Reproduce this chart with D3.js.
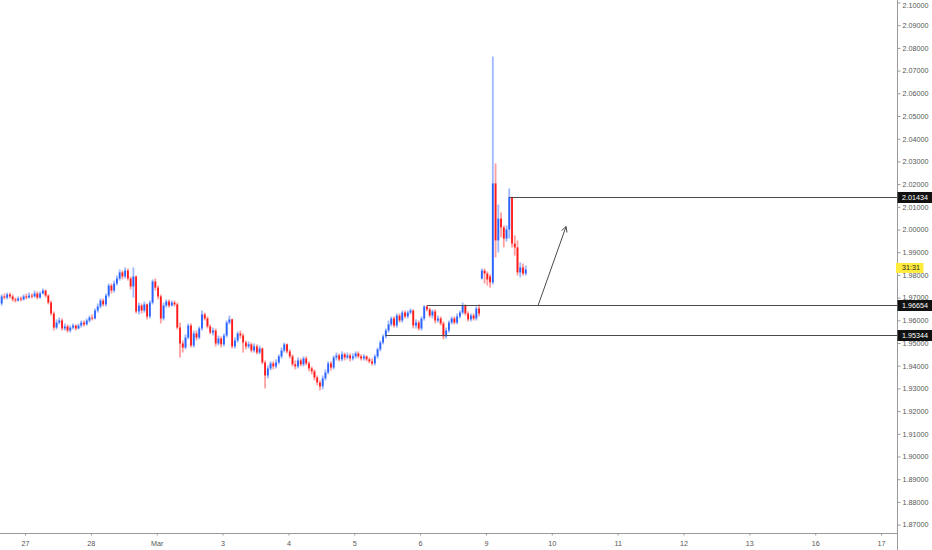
<!DOCTYPE html>
<html><head><meta charset="utf-8">
<script src="https://cdn.jsdelivr.net/npm/d3@7"></script>
<style>body{margin:0;background:#fff;}svg{display:block}</style>
</head><body><svg id="c" width="932" height="550"></svg>
<script>
// ---- data ----
const dayLabels = ["27","28","Mar","3","4","5","6","9","10","11","12","13","16","17"];
const dayTickHours = [0,24,48,72,96,120,144,168,192,216,240,264,288,312];
const priceTicks = [1.87,1.88,1.89,1.90,1.91,1.92,1.93,1.94,1.95,1.96,1.97,1.98,1.99,2.00,2.01,2.02,2.03,2.04,2.05,2.06,2.07,2.08,2.09,2.10];
const firstBarHour = -9; // hourly bars, trading-time hours from 27 Feb 00:00

const opens = [
1.9674,1.9705,1.9700,1.9714,1.9705,1.9692,1.9687,1.9696,1.9692,1.9705,
1.9700,1.9709,1.9705,1.9718,1.9700,1.9718,1.9731,1.9709,1.9678,1.9630,
1.9568,1.9590,1.9599,1.9564,1.9573,1.9555,1.9568,1.9577,1.9564,1.9577,
1.9590,1.9582,1.9599,1.9612,1.9608,1.9643,1.9661,1.9687,1.9670,1.9709,
1.9753,1.9731,1.9762,1.9784,1.9811,1.9793,1.9819,1.9784,1.9749,1.9793,
1.9639,1.9665,1.9643,1.9670,1.9617,1.9678,1.9771,1.9744,1.9705,1.9608,
1.9665,1.9683,1.9665,1.9678,1.9670,1.9568,1.9498,1.9480,1.9524,1.9577,
1.9489,1.9542,1.9524,1.9564,1.9626,1.9608,1.9573,1.9546,1.9555,1.9498,
1.9520,1.9494,1.9533,1.9590,1.9604,1.9485,1.9511,1.9542,1.9533,1.9502,
1.9485,1.9494,1.9467,1.9485,1.9458,1.9476,1.9414,1.9357,1.9388,1.9410,
1.9397,1.9414,1.9441,1.9467,1.9494,1.9463,1.9441,1.9406,1.9397,1.9423,
1.9406,1.9432,1.9410,1.9388,1.9375,1.9348,1.9326,1.9309,1.9344,1.9370,
1.9410,1.9392,1.9436,1.9445,1.9428,1.9450,1.9436,1.9445,1.9432,1.9441,
1.9454,1.9441,1.9432,1.9441,1.9428,1.9419,1.9410,1.9441,1.9472,1.9502,
1.9529,1.9555,1.9582,1.9608,1.9577,1.9621,1.9599,1.9634,1.9617,1.9634,
1.9643,1.9577,1.9590,1.9564,1.9608,1.9661,1.9648,1.9621,1.9639,1.9599,
1.9608,1.9586,1.9529,1.9555,1.9590,1.9608,1.9590,1.9617,1.9634,1.9665,
1.9630,1.9604,1.9621,1.9608,1.9652,1.9784,1.9819,1.9806,1.9793,1.9767,
2.0203,1.9952,2.0048,2.0009,1.9960,2.0000,2.0143,1.9938,1.9921,1.9811,1.9833,1.9806];

const highs = [
1.9714,1.9718,1.9722,1.9722,1.9714,1.9700,1.9705,1.9705,1.9714,1.9718,
1.9722,1.9718,1.9731,1.9727,1.9727,1.9740,1.9736,1.9714,1.9687,1.9639,
1.9604,1.9612,1.9608,1.9586,1.9582,1.9577,1.9586,1.9582,1.9586,1.9599,
1.9599,1.9608,1.9621,1.9626,1.9652,1.9674,1.9696,1.9696,1.9718,1.9762,
1.9762,1.9775,1.9797,1.9824,1.9819,1.9833,1.9828,1.9793,1.9833,1.9797,
1.9678,1.9674,1.9683,1.9674,1.9687,1.9780,1.9784,1.9753,1.9714,1.9678,
1.9692,1.9692,1.9687,1.9687,1.9678,1.9590,1.9511,1.9538,1.9586,1.9586,
1.9555,1.9555,1.9573,1.9643,1.9634,1.9617,1.9582,1.9568,1.9564,1.9533,
1.9529,1.9542,1.9599,1.9621,1.9608,1.9524,1.9551,1.9555,1.9542,1.9511,
1.9507,1.9502,1.9498,1.9494,1.9489,1.9480,1.9423,1.9401,1.9419,1.9419,
1.9428,1.9450,1.9480,1.9502,1.9498,1.9472,1.9450,1.9423,1.9436,1.9432,
1.9441,1.9441,1.9419,1.9397,1.9384,1.9357,1.9335,1.9357,1.9384,1.9419,
1.9419,1.9445,1.9458,1.9454,1.9463,1.9458,1.9458,1.9454,1.9454,1.9463,
1.9463,1.9450,1.9450,1.9445,1.9436,1.9432,1.9450,1.9480,1.9511,1.9538,
1.9564,1.9599,1.9617,1.9617,1.9630,1.9630,1.9643,1.9643,1.9643,1.9652,
1.9648,1.9604,1.9599,1.9617,1.9667,1.9666,1.9656,1.9648,1.9648,1.9621,
1.9617,1.9595,1.9568,1.9599,1.9617,1.9617,1.9630,1.9643,1.9678,1.9670,
1.9639,1.9630,1.9630,1.9661,1.9670,1.9828,1.9828,1.9815,1.9802,2.0762,
2.0291,2.0110,2.0075,2.0018,2.0018,2.0181,2.0145,1.9974,1.9952,1.9855,1.9850,1.9841];

const lows = [
1.9665,1.9692,1.9692,1.9696,1.9683,1.9678,1.9683,1.9683,1.9687,1.9692,
1.9696,1.9696,1.9700,1.9692,1.9696,1.9714,1.9700,1.9670,1.9621,1.9555,
1.9560,1.9582,1.9555,1.9555,1.9546,1.9546,1.9560,1.9555,1.9560,1.9568,
1.9573,1.9577,1.9590,1.9599,1.9604,1.9634,1.9652,1.9661,1.9661,1.9700,
1.9718,1.9722,1.9753,1.9775,1.9780,1.9784,1.9775,1.9736,1.9700,1.9630,
1.9626,1.9630,1.9634,1.9604,1.9608,1.9670,1.9731,1.9692,1.9586,1.9599,
1.9656,1.9656,1.9661,1.9661,1.9560,1.9436,1.9458,1.9472,1.9516,1.9480,
1.9480,1.9511,1.9516,1.9555,1.9599,1.9564,1.9538,1.9533,1.9485,1.9489,
1.9480,1.9485,1.9524,1.9582,1.9476,1.9476,1.9502,1.9520,1.9458,1.9472,
1.9476,1.9458,1.9458,1.9450,1.9450,1.9406,1.9300,1.9344,1.9379,1.9384,
1.9388,1.9406,1.9432,1.9458,1.9454,1.9432,1.9397,1.9384,1.9388,1.9397,
1.9397,1.9401,1.9375,1.9362,1.9335,1.9313,1.9291,1.9296,1.9335,1.9362,
1.9379,1.9384,1.9423,1.9419,1.9419,1.9423,1.9428,1.9419,1.9423,1.9432,
1.9432,1.9423,1.9423,1.9419,1.9410,1.9401,1.9401,1.9432,1.9463,1.9494,
1.9520,1.9546,1.9573,1.9568,1.9568,1.9590,1.9590,1.9608,1.9608,1.9626,
1.9564,1.9564,1.9555,1.9555,1.9599,1.9639,1.9612,1.9608,1.9586,1.9590,
1.9577,1.9516,1.9520,1.9546,1.9582,1.9582,1.9582,1.9608,1.9626,1.9621,
1.9595,1.9595,1.9599,1.9599,1.9617,1.9780,1.9762,1.9753,1.9744,1.9758,
1.9877,1.9899,1.9965,1.9921,1.9947,1.9960,1.9921,1.9885,1.9797,1.9789,1.9797,1.9797];

const closes = [
1.9705,1.9700,1.9714,1.9705,1.9692,1.9687,1.9696,1.9692,1.9705,1.9700,
1.9709,1.9705,1.9718,1.9700,1.9718,1.9731,1.9709,1.9678,1.9630,1.9568,
1.9590,1.9599,1.9564,1.9573,1.9555,1.9568,1.9577,1.9564,1.9577,1.9590,
1.9582,1.9599,1.9612,1.9608,1.9643,1.9661,1.9687,1.9670,1.9709,1.9753,
1.9731,1.9762,1.9784,1.9811,1.9793,1.9819,1.9784,1.9749,1.9793,1.9639,
1.9665,1.9643,1.9670,1.9617,1.9678,1.9771,1.9744,1.9705,1.9608,1.9665,
1.9683,1.9665,1.9678,1.9670,1.9568,1.9498,1.9480,1.9524,1.9577,1.9489,
1.9542,1.9524,1.9564,1.9626,1.9608,1.9573,1.9546,1.9555,1.9498,1.9520,
1.9494,1.9533,1.9590,1.9604,1.9485,1.9511,1.9542,1.9533,1.9502,1.9485,
1.9494,1.9467,1.9485,1.9458,1.9476,1.9414,1.9357,1.9388,1.9410,1.9397,
1.9414,1.9441,1.9467,1.9494,1.9463,1.9441,1.9406,1.9397,1.9423,1.9406,
1.9432,1.9410,1.9388,1.9375,1.9348,1.9326,1.9309,1.9344,1.9370,1.9410,
1.9392,1.9436,1.9445,1.9428,1.9450,1.9436,1.9445,1.9432,1.9441,1.9454,
1.9441,1.9432,1.9441,1.9428,1.9419,1.9410,1.9441,1.9472,1.9502,1.9529,
1.9555,1.9582,1.9608,1.9577,1.9621,1.9599,1.9634,1.9617,1.9634,1.9643,
1.9577,1.9590,1.9564,1.9608,1.9661,1.9648,1.9621,1.9639,1.9599,1.9608,
1.9586,1.9529,1.9555,1.9590,1.9608,1.9590,1.9617,1.9634,1.9665,1.9630,
1.9604,1.9621,1.9608,1.9652,1.9630,1.9819,1.9806,1.9780,1.9767,2.0203,
1.9952,2.0048,2.0009,1.9960,2.0000,2.0143,1.9938,1.9921,1.9811,1.9833,1.9806,1.9824];

const levelPrices = [2.01434, 1.96654, 1.95344];
const levelLabels = ["2.01434", "1.96654", "1.95344"];
const levelStartBars = [185, 155, 140];
const arrowFrom = [187, 1.96654];   // [hour, price]
const arrowTo = [197.2, 2.0013];
const countdownText = "31:31";

// ---- layout ----
const W = 932, H = 550, axisX = 897, axisY = 533;
const FONT = "Liberation Sans, Arial, sans-serif";
const svg = d3.select("#c");
const x = d3.scaleLinear().domain([0, 312]).range([25, 881.05]);
const y = d3.scaleLinear().domain([1.87, 2.10]).range([524.6, 2.5]);

const bars = closes.map((c, i) => ({
  h: firstBarHour + i + 0.5, o: opens[i], hi: highs[i], lo: lows[i], c: c
}));

svg.append("rect").attr("width", W).attr("height", H).attr("fill", "#fff");

svg.append("clipPath").attr("id", "plot").append("rect")
  .attr("x", 0).attr("y", 0).attr("width", axisX).attr("height", axisY);
const plot = svg.append("g").attr("clip-path", "url(#plot)");

const bw = 1.8;
const upBody = "#2962ff", dnBody = "#ff1a1a", upWick = "#9fb8ff", dnWick = "#ff9f9f";
plot.append("g").selectAll("rect").data(bars).join("rect")
  .attr("x", d => x(d.h) - bw / 2).attr("width", bw)
  .attr("y", d => y(d.hi)).attr("height", d => Math.max(1, y(d.lo) - y(d.hi)))
  .attr("fill", d => d.c >= d.o ? upWick : dnWick);
plot.append("g").selectAll("rect").data(bars).join("rect")
  .attr("x", d => x(d.h) - bw / 2).attr("width", bw)
  .attr("y", d => y(Math.max(d.o, d.c)))
  .attr("height", d => Math.max(1, Math.abs(y(d.o) - y(d.c))))
  .attr("fill", d => d.c >= d.o ? upBody : dnBody);

// horizontal levels
levelPrices.forEach((p, k) => {
  const yy = Math.round(y(p)) + 0.5;
  plot.append("line").attr("x1", x(bars[levelStartBars[k]].h)).attr("x2", axisX)
    .attr("y1", yy).attr("y2", yy).attr("stroke", "#4a4a4a").attr("stroke-width", 1);
});

// arrow
{
  const x1 = x(arrowFrom[0]), y1 = y(arrowFrom[1]), x2 = x(arrowTo[0]), y2 = y(arrowTo[1]);
  plot.append("line").attr("x1", x1).attr("y1", y1).attr("x2", x2).attr("y2", y2)
    .attr("stroke", "#4a4a4a").attr("stroke-width", 1);
  const ang = Math.atan2(y1 - y2, x1 - x2), len = 6, sp = 0.5;
  plot.append("path")
    .attr("d", `M${x2 + len * Math.cos(ang - sp)},${y2 + len * Math.sin(ang - sp)}L${x2},${y2}L${x2 + len * Math.cos(ang + sp)},${y2 + len * Math.sin(ang + sp)}`)
    .attr("fill", "none").attr("stroke", "#4a4a4a").attr("stroke-width", 1);
}

// axes lines
svg.append("line").attr("x1", axisX + 0.5).attr("x2", axisX + 0.5).attr("y1", 0).attr("y2", H)
  .attr("stroke", "#9a9a9a");
svg.append("line").attr("x1", 0).attr("x2", axisX).attr("y1", axisY + 0.5).attr("y2", axisY + 0.5)
  .attr("stroke", "#9a9a9a");

// right price axis
const ya = svg.append("g").attr("transform", `translate(${axisX + 0.5},0)`)
  .call(d3.axisRight(y).tickValues(priceTicks).tickFormat(d3.format(".5f")).tickSize(3).tickPadding(2));
ya.select(".domain").remove();
ya.selectAll(".tick line").attr("stroke", "#9a9a9a");
ya.selectAll(".tick text").attr("fill", "#555").style("font", `7.2px ${FONT}`);
// keep the top label fully inside the picture
ya.selectAll(".tick text").filter(d => y(d) < 5).attr("y", d => 5 - y(d));

// bottom date axis
const xa = svg.append("g").attr("transform", `translate(0,${axisY + 0.5})`)
  .call(d3.axisBottom(x).tickValues(dayTickHours).tickFormat((d, i) => dayLabels[i]).tickSize(2).tickPadding(5));
xa.select(".domain").remove();
xa.selectAll(".tick line").attr("stroke", "#9a9a9a");
xa.selectAll(".tick text").attr("fill", "#555").style("font", `7.2px ${FONT}`);

// level tags
levelPrices.forEach((p, k) => {
  const yy = Math.round(y(p)) + 0.5;
  svg.append("rect").attr("x", axisX + 0.5).attr("y", yy - 5.5).attr("width", W - axisX).attr("height", 11)
    .attr("fill", "#111");
  svg.append("text").attr("x", axisX + 5).attr("y", yy).attr("dy", "0.35em")
    .attr("fill", "#fff").style("font", `7.2px ${FONT}`).text(levelLabels[k]);
});

// countdown tag at last close
{
  const yy = y(closes[closes.length - 1]) - 1.5;
  svg.append("rect").attr("x", axisX - 1).attr("y", yy - 5).attr("width", 27.5).attr("height", 10)
    .attr("fill", "#ffeb3b");
  svg.append("text").attr("x", axisX + 5).attr("y", yy).attr("dy", "0.35em")
    .attr("fill", "#222").style("font", `7.2px ${FONT}`).text(countdownText);
}
</script></body></html>
